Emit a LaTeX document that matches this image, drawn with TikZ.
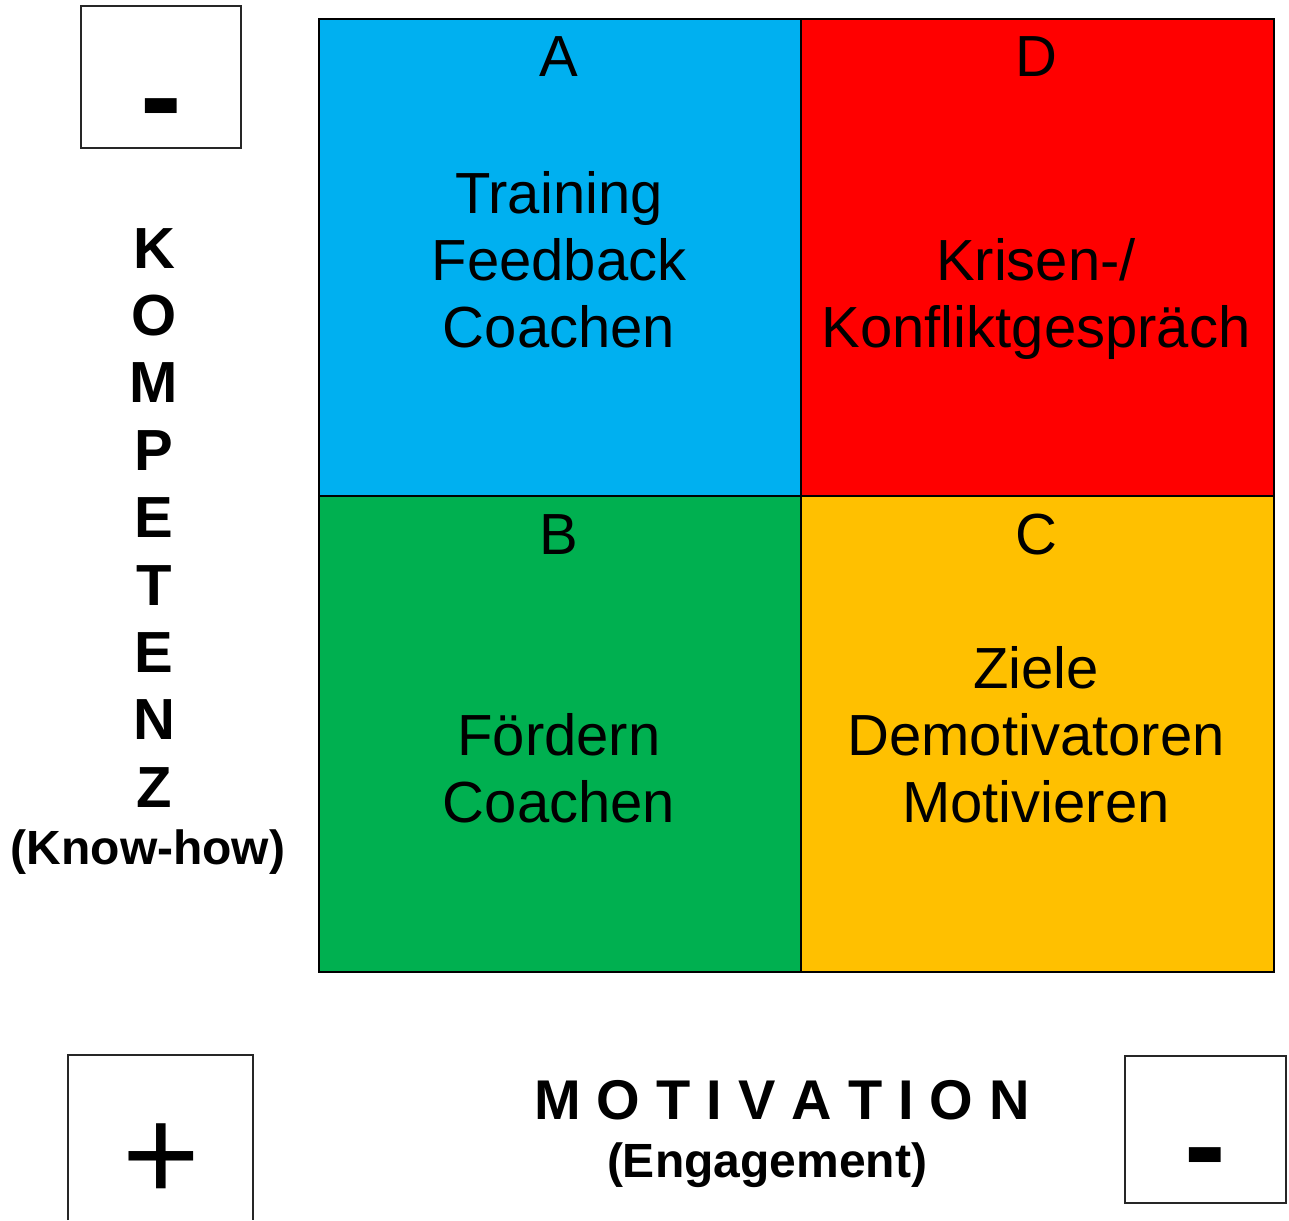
\documentclass[tikz,border=0pt]{standalone}
\usepackage{fontspec}
\setmainfont{Liberation Sans}
\definecolor{qblue}{HTML}{00B0F0}
\definecolor{qred}{HTML}{FF0000}
\definecolor{qgreen}{HTML}{00B050}
\definecolor{qorange}{HTML}{FFC000}
\newcommand\tsp{\hspace{16pt}}
\begin{document}
\begin{tikzpicture}[x=1pt,y=-1pt,
  cell/.style={draw=black, line width=2.2pt, inner sep=0pt, anchor=north west},
  leftcol/.style={minimum width=482pt},
  rightcol/.style={minimum width=473pt},
  toprow/.style={minimum height=477pt},
  botrow/.style={minimum height=476pt},
  lbl/.style={anchor=base, inner sep=0pt, font=\fontsize{58}{67}\selectfont},
  axisletter/.style={anchor=base, inner sep=0pt, font=\bfseries\fontsize{58}{67}\selectfont},
  axisnote/.style={anchor=base, inner sep=0pt, font=\bfseries\fontsize{48}{56}\selectfont},
  signbox/.style={draw=black!85, line width=1.6pt},
  minus/.style={anchor=base, inner sep=0pt, text depth=0pt, font=\bfseries\fontsize{125}{125}\selectfont},
  plus/.style={anchor=base, inner sep=0pt, text depth=0pt, text height=70pt, font=\fontsize{133}{133}\selectfont}]
\useasboundingbox (0,0) rectangle (1289,1220);

% quadrants
\node[cell, leftcol, toprow, fill=qblue]    (qa) at (318,18)  {};
\node[cell, rightcol, toprow, fill=qred]    (qd) at (800,18)  {};
\node[cell, leftcol, botrow, fill=qgreen]   (qb) at (318,495) {};
\node[cell, rightcol, botrow, fill=qorange] (qc) at (800,495) {};

% quadrant A
\node[lbl] (la)  at (559,77)  {A};
\node[lbl] (la1) at (559,213) {Training};
\node[lbl] (la2) at (559,280) {Feedback};
\node[lbl] (la3) at (559,347) {Coachen};
% quadrant D
\node[lbl] (ld)  at (1036,77)  {D};
\node[lbl] (ld1) at (1036,280) {Krisen-/};
\node[lbl] (ld2) at (1036,347) {Konfliktgespräch};
% quadrant B
\node[lbl] (lb)  at (559,554) {B};
\node[lbl] (lb1) at (559,755) {Fördern};
\node[lbl] (lb2) at (559,822) {Coachen};
% quadrant C
\node[lbl] (lc)  at (1036,554) {C};
\node[lbl] (lc1) at (1036,688) {Ziele};
\node[lbl] (lc2) at (1036,755) {Demotivatoren};
\node[lbl] (lc3) at (1036,822) {Motivieren};

% vertical axis label
\foreach \ch [count=\i from 0] in {K,O,M,P,E,T,E,N,Z}
  \node[axisletter] (k\i) at (154,268+67.4*\i) {\ch};
\node[axisnote] (knowhow) at (148,864) {(Know-how)};

% horizontal axis label
\node[anchor=base, inner sep=0pt, font=\bfseries\fontsize{56}{64}\selectfont] (mot) at (782,1119)
  {M\tsp O\tsp T\tsp I\tsp V\tsp A\tsp T\tsp I\tsp O\tsp N};
\node[axisnote] (eng) at (767,1177) {(Engagement)};

% sign boxes
\draw[signbox] (81,6) rectangle (241,148);
\node[minus] (mtop) at (161,139) {-};
\draw[signbox] (68,1220) -- (68,1055) -- (253,1055) -- (253,1220);
\node[plus] (pbot) at (161,1200) {+};
\draw[signbox] (1125,1056) rectangle (1286,1203);
\node[minus] (mbot) at (1205,1187) {-};
\end{tikzpicture}
\end{document}
